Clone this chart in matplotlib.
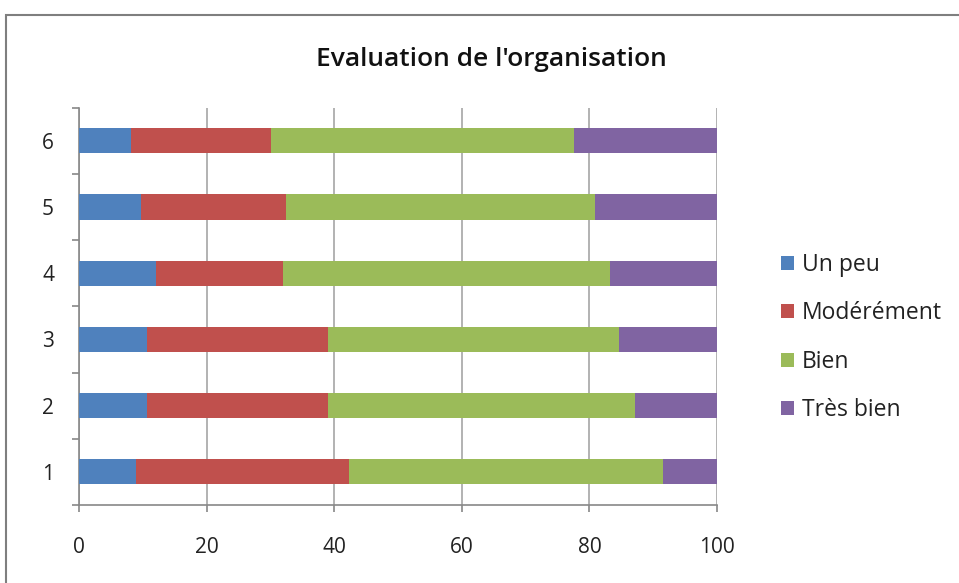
import matplotlib.pyplot as plt
from matplotlib.patches import Rectangle
import numpy as np

rows = ['1', '2', '3', '4', '5', '6']
un_peu = [8.9, 10.7, 10.7, 12.1, 9.7, 8.2]
moderement = [33.4, 28.4, 28.4, 19.9, 22.8, 21.9]
bien = [49.3, 48.0, 45.6, 51.3, 48.4, 47.5]
tres_bien = [8.4, 12.9, 15.3, 16.7, 19.1, 22.4]

series = [('Un peu', un_peu, '#4F81BD'),
          ('Modérément', moderement, '#C0504D'),
          ('Bien', bien, '#9BBB59'),
          ('Très bien', tres_bien, '#8064A2')]

plt.rcParams['font.family'] = ['Open Sans', 'DejaVu Sans']

fig = plt.figure(figsize=(9.59, 5.83), dpi=100)
ax = fig.add_axes([0.0824, 0.1338, 0.6653, 0.6815])

y = np.arange(len(rows))
left = np.zeros(len(rows))
for name, vals, col in series:
    ax.barh(y, vals, left=left, height=0.38, color=col, label=name, zorder=3)
    left += np.array(vals)

ax.set_xlim(0, 100)
ax.set_ylim(-0.5, len(rows) - 0.5)
ax.set_xticks(range(0, 101, 20))
ax.set_yticks(y)
ax.set_yticklabels(rows)
ax.set_yticks(np.arange(-0.5, len(rows), 1), minor=True)
ax.tick_params(axis='y', which='major', length=0, pad=18, labelsize=15, labelcolor='#222222')
ax.tick_params(axis='y', which='minor', length=5, color='#888888', width=1.2)
ax.tick_params(axis='x', length=5, color='#888888', width=1.2, labelsize=15, pad=18,
               labelcolor='#222222')
ax.grid(axis='x', color='#A6A6A6', linewidth=1.2, zorder=0)
for s in ['top', 'right']:
    ax.spines[s].set_visible(False)
for s in ['left', 'bottom']:
    ax.spines[s].set_color('#888888')
    ax.spines[s].set_linewidth(1.2)

fig.text(0.5125, 0.898, "Evaluation de l'organisation", ha='center', va='center',
         fontsize=19, fontweight='semibold', color='#111111')

leg = fig.legend(loc='center left', bbox_to_anchor=(0.805, 0.421), frameon=False,
                 fontsize=16.5, handlelength=0.57, handleheight=0.57, handletextpad=0.35,
                 labelspacing=1.06, borderaxespad=0)
for t in leg.get_texts():
    t.set_color('#222222')

fig.patches.append(Rectangle((6 / 959, -0.1), 1.2, 1 - 15 / 583 + 0.1,
                             transform=fig.transFigure, fill=False,
                             edgecolor='#7F7F7F', linewidth=1.5))

plt.savefig('out.png', dpi=100)
